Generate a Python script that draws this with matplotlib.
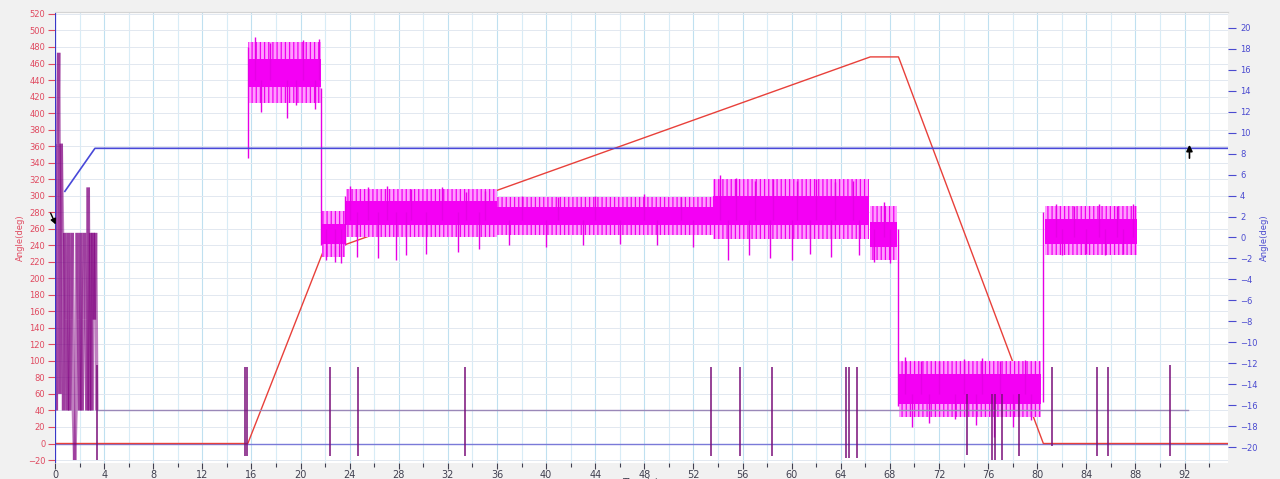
import numpy as np
import matplotlib
matplotlib.use("Agg")
import matplotlib.pyplot as plt
from matplotlib.collections import LineCollection

# ---------------- data ----------------
# commanded angle ramp (left axis)
ramp_t = [0.0, 15.7, 21.8, 66.4, 68.7, 80.5, 95.5]
ramp_v = [0.0, 0.0, 231.0, 468.0, 468.0, 0.0, 0.0]

# blue trace (right axis)
blue_t = [0.8, 3.25, 95.5]
blue_v = [4.4, 8.5, 8.5]

# zero reference (left axis)
zero_t = [0.0, 95.5]
zero_v = [0.0, 0.0]

# measured signal, drawn as noise bands per segment (left axis)
seg_start = [15.75, 21.75, 23.7, 36.0, 53.6, 66.4, 68.75, 80.6]
seg_end = [21.65, 23.6, 36.0, 53.6, 66.3, 68.6, 80.3, 88.1]
seg_hi = [486, 282, 308, 298, 320, 288, 100, 288]
seg_lo = [412, 226, 250, 252, 248, 222, 32, 228]
seg_core_hi = [466, 266, 294, 286, 300, 268, 84, 272]
seg_core_lo = [432, 242, 264, 265, 264, 238, 48, 242]

# individual excursions of the measured signal
mag_spike_t = [15.7, 16.3, 16.8, 17.5, 18.9, 19.6, 20.2, 21.2, 21.5, 21.7,
               22.1, 22.8, 23.3, 23.65,
               24.0, 24.6, 25.5, 26.3, 27.0, 27.8, 28.6, 29.0, 30.2, 31.5,
               32.8, 33.5, 34.5, 35.0,
               37.0, 38.0, 40.0, 41.0, 43.0, 44.0, 46.0, 48.0, 49.0, 51.0, 52.0,
               54.2, 54.8, 55.5, 56.5, 57.0, 58.2, 58.5, 60.0, 60.4, 61.5,
               62.0, 63.2, 63.5, 65.0, 65.5,
               66.7, 67.5, 68.0, 68.7,
               69.2, 69.8, 70.5, 71.2, 72.0, 73.3, 74.0, 75.0, 75.5, 76.5,
               77.0, 78.0, 79.0, 79.5, 80.45,
               81.5, 82.0, 83.0, 84.0, 85.0, 85.5, 86.5, 87.0, 87.8]
mag_spike_lo = [346, 440, 401, 440, 394, 410, 440, 405, 440, 240,
                222, 220, 218, 240,
                270, 226, 270, 225, 270, 222, 228, 270, 230, 270,
                232, 270, 236, 270,
                240, 270, 238, 270, 240, 270, 242, 270, 240, 270, 238,
                270, 222, 270, 228, 270, 224, 270, 222, 270, 230,
                270, 226, 270, 270, 228,
                220, 250, 218, 45,
                60, 20, 60, 25, 60, 30, 60, 22, 60, 8,
                60, 20, 60, 28, 50,
                250, 228, 250, 230, 250, 228, 250, 230, 250]
mag_spike_hi = [480, 492, 440, 485, 440, 440, 488, 440, 490, 430,
                260, 260, 260, 300,
                312, 280, 310, 280, 312, 280, 280, 308, 280, 310,
                280, 305, 280, 306,
                270, 300, 270, 298, 270, 300, 270, 302, 270, 298, 270,
                325, 270, 322, 270, 318, 270, 320, 270, 318, 270,
                320, 270, 316, 318, 270,
                260, 292, 260, 260,
                105, 60, 100, 60, 100, 60, 102, 60, 103, 60,
                100, 60, 101, 60, 280,
                290, 260, 288, 260, 290, 260, 288, 260, 290]

# discrete event signal: start-up burst (left axis)
burst_t = [0.0, 0.1, 0.2, 0.3, 0.4, 0.5, 0.6, 0.7, 0.8, 0.9, 1.0, 1.1,
           1.2, 1.3, 1.4, 1.5, 1.6, 1.7, 1.8, 1.9, 2.0, 2.1, 2.2, 2.3,
           2.4, 2.5, 2.6, 2.7, 2.8, 2.9, 3.0, 3.1, 3.2, 3.3, 3.4]
burst_v = [363, 40, 363, 473, 60, 363, 255, 40, 255, 150, 40, 255,
           40, 150, 255, 40, -20, 40, 255, 150, 40, 255, 40, 150,
           255, 150, 40, 310, 40, 255, 40, 255, 150, 255, 40]

# discrete event signal: idle level and pulses
event_base_t = [3.4, 92.3]
event_base_v = [40, 40]
event_t = [3.42, 15.45, 15.6, 22.4, 24.65, 33.4, 53.4, 55.8, 58.4,
           64.4, 64.7, 65.3, 74.3, 76.3, 76.6, 77.1, 78.5, 81.2,
           84.9, 85.8, 90.8]
event_top = [95, 93, 93, 93, 93, 93, 93, 93, 93,
             93, 93, 93, 60, 60, 60, 60, 60, 93,
             93, 93, 95]
event_bottom = [-20, -15, -15, -15, -15, -15, -15, -15, -15,
                -18, -18, -18, -14, -20, -20, -20, -15, -3,
                -15, -15, -15]

# axis ticks
x_ticks = list(range(0, 93, 4))
left_ticks = list(range(-20, 521, 20))
right_ticks = list(range(-20, 21, 2))

# ---------------- figure ----------------
plt.rcParams["hatch.linewidth"] = 0.9
fig = plt.figure(figsize=(12.8, 4.79), dpi=100, facecolor="#f1f1f1")
ax = fig.add_axes([0.043, 0.0334, 0.916, 0.9416])
ax.set_facecolor("white")
ax2 = ax.twinx()

ax.set_xlim(0, 95.5)
ax.set_ylim(-23.6, 522.4)
ax2.set_ylim(-21.5, 21.5)

# grid
ax.set_xticks(x_ticks)
ax.set_xticks(list(range(2, 95, 4)), minor=True)
ax.set_yticks(left_ticks)
for xv in range(0, 96, 2):
    ax.axvline(xv, color="#bfe0f0" if xv % 4 == 0 else "#d8ecf6",
               lw=0.8, zorder=0)
for yv in left_ticks:
    ax.axhline(yv, color="#e2e8f0", lw=0.7, zorder=0)

# ramp and references
ax.plot(zero_t, zero_v, color="#7a7ad8", lw=1.0, zorder=2)
ax.plot(ramp_t, ramp_v, color="#e8403a", lw=1.0, zorder=3)

# measured signal bands: light envelope with vertical stroke texture,
# solid core where the trace is densest
for s, e, hi, lo, ch, cl in zip(seg_start, seg_end, seg_hi, seg_lo,
                                seg_core_hi, seg_core_lo):
    ax.fill_between([s, e], [lo, lo], [hi, hi], facecolor="#ff9cff",
                    edgecolor="none", lw=0, zorder=4)
    ax.fill_between([s, e], [lo, lo], [hi, hi], facecolor="none",
                    edgecolor="#f000f0", hatch="||||", lw=0, zorder=4)
    ax.fill_between([s, e], [cl, cl], [ch, ch], color="#f400f4",
                    lw=0, zorder=4)
ax.vlines(mag_spike_t, mag_spike_lo, mag_spike_hi, color="#e600e6",
          lw=1.0, zorder=4)

# event signal: burst drawn segment by segment so overlaps darken
burst_pts = np.column_stack([burst_t, burst_v])
burst_segs = np.stack([burst_pts[:-1], burst_pts[1:]], axis=1)
ax.add_collection(LineCollection(burst_segs, colors="#800080",
                                 linewidths=2.6, alpha=0.5, zorder=5))
ax.plot(event_base_t, event_base_v, color="#9a88b8", lw=1.0, zorder=5)
ax.vlines(event_t, event_bottom, event_top, color="#7a0f7a", lw=1.3,
          alpha=0.85, zorder=6)

# blue trace on the right axis
ax2.plot(blue_t, blue_v, color="#4848d8", lw=1.2, zorder=5)
ax.axvline(0.0, color="#3838c8", lw=1.6, zorder=7)

# cursor markers
ax.annotate("", xy=(0.15, 262), xytext=(-0.45, 282),
            arrowprops=dict(arrowstyle="-|>", color="black", lw=1.0,
                            mutation_scale=8),
            annotation_clip=False, zorder=8)
ax2.annotate("", xy=(92.4, 9.1), xytext=(92.4, 7.3),
             arrowprops=dict(arrowstyle="-|>", color="black", lw=1.2,
                             mutation_scale=9),
             zorder=8)

# ticks and labels
ax.tick_params(axis="y", colors="#e04a60", labelsize=6, length=5,
               width=0.8, pad=2)
ax.tick_params(axis="x", which="major", colors="#404050", labelsize=7,
               length=4, width=0.8, pad=1)
ax.tick_params(axis="x", which="minor", colors="#404050", length=3,
               width=0.8)
ax2.set_yticks(right_ticks)
ax2.tick_params(axis="y", colors="#4a4ad0", labelsize=6, length=6,
                width=0.8, pad=3)

for a in (ax, ax2):
    for side in ("left", "right", "bottom"):
        a.spines[side].set_visible(False)
    a.spines["top"].set_color("#d4d4d4")

ax.set_ylabel("Angle(deg)", color="#e04a60", fontsize=6, labelpad=2)
ax2.set_ylabel("Angle(deg)", color="#4a4ad0", fontsize=6, labelpad=2)
fig.text(0.5, -0.008, "Time(s)", ha="center", va="center", fontsize=7,
         color="#404050")

fig.savefig("out.png", dpi=100, facecolor=fig.get_facecolor())
